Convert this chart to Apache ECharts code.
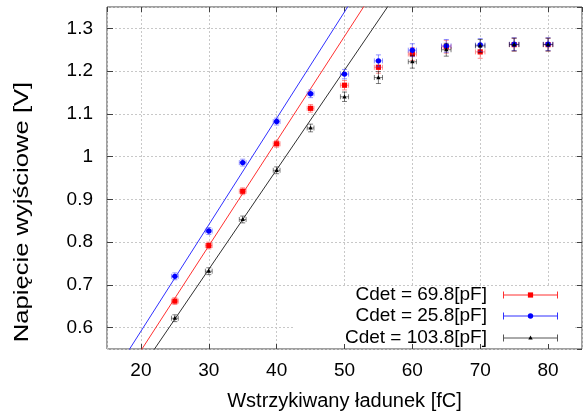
<!DOCTYPE html>
<html>
<head>
<meta charset="utf-8">
<script src="https://cdn.jsdelivr.net/npm/echarts@6/dist/echarts.min.js"></script>
<style>html,body{margin:0;padding:0;background:#fff}#c{width:583px;height:416px}</style>
</head>
<body>
<div id="c"></div>
<script>
// ---- data ----
const xCharge = [25, 30, 35, 40, 45, 50, 55, 60, 65, 70, 75, 80];
const xErr    = [0.5, 0.5, 0.5, 0.5, 0.5, 0.6, 0.6, 0.6, 0.7, 0.7, 0.7, 0.7];
const vRed    = [0.662, 0.792, 0.919, 1.030, 1.113, 1.167, 1.209, 1.240, 1.257, 1.245, 1.262, 1.262];
const vBlue   = [0.720, 0.826, 0.986, 1.082, 1.147, 1.193, 1.224, 1.249, 1.259, 1.261, 1.263, 1.263];
const vBlack  = [0.622, 0.732, 0.853, 0.968, 1.067, 1.140, 1.185, 1.222, 1.250, 1.259, 1.262, 1.262];
const yErr    = [0.008, 0.008, 0.008, 0.008, 0.009, 0.011, 0.014, 0.015, 0.015, 0.015, 0.015, 0.015];
// linear fits (slope, intercept) for each series
const fitSlope     = {red: 0.0245, blue: 0.0249, black: 0.0233};
const fitIntercept = {red: 0.0563, blue: 0.0936, black: 0.0374};
const fitRange = [15, 85];
const legendNames = ['Cdet = 69.8[pF]', 'Cdet = 25.8[pF]', 'Cdet = 103.8[pF]'];
const xTitle = 'Wstrzykiwany ładunek [fC]';
const yTitle = 'Napięcie wyjściowe [V]';

const FONT = '"Liberation Sans", Arial, sans-serif';
const styles = {
  red:   {color: '#ff0000', err: 'rgba(255,60,60,0.55)', line: '#ff3030', shape: 'square'},
  blue:  {color: '#0000ff', err: 'rgba(60,60,255,0.55)', line: '#3030ff', shape: 'circle'},
  black: {color: '#000000', err: 'rgba(0,0,0,0.5)',     line: '#303030', shape: 'triangle'}
};

function markerShape(shape, cx, cy, color) {
  if (shape === 'square') return {type: 'rect', shape: {x: cx - 2.6, y: cy - 2.6, width: 5.2, height: 5.2}, style: {fill: color}};
  if (shape === 'circle') return {type: 'circle', shape: {cx: cx, cy: cy, r: 2.7}, style: {fill: color}};
  return {type: 'polygon', shape: {points: [[cx, cy - 2.4], [cx - 2.2, cy + 1.6], [cx + 2.2, cy + 1.6]]}, style: {fill: color}};
}

function errRender(st) {
  return function (params, api) {
    const x = api.value(0), y = api.value(1), ex = api.value(2), ey = api.value(3);
    const c = api.coord([x, y]);
    const l = api.coord([x - ex, y]), r = api.coord([x + ex, y]);
    const t = api.coord([x, y + ey]), b = api.coord([x, y - ey]);
    const cap = 2.5;
    const ls = {stroke: st.err, lineWidth: 1};
    return {
      type: 'group',
      children: [
        {type: 'line', shape: {x1: l[0], y1: l[1], x2: r[0], y2: r[1]}, style: ls},
        {type: 'line', shape: {x1: l[0], y1: l[1] - cap, x2: l[0], y2: l[1] + cap}, style: ls},
        {type: 'line', shape: {x1: r[0], y1: r[1] - cap, x2: r[0], y2: r[1] + cap}, style: ls},
        {type: 'line', shape: {x1: t[0], y1: t[1], x2: b[0], y2: b[1]}, style: ls},
        {type: 'line', shape: {x1: t[0] - cap, y1: t[1], x2: t[0] + cap, y2: t[1]}, style: ls},
        {type: 'line', shape: {x1: b[0] - cap, y1: b[1], x2: b[0] + cap, y2: b[1]}, style: ls},
        markerShape(st.shape, c[0], c[1], st.color)
      ]
    };
  };
}

function pts(vals) { return xCharge.map((x, i) => [x, vals[i], xErr[i], yErr[i]]); }
function fitLine(key) { return fitRange.map(x => [x, fitSlope[key] * x + fitIntercept[key]]); }

const series = [];
[['red', vRed], ['blue', vBlue], ['black', vBlack]].forEach(([key, vals], i) => {
  series.push({type: 'line', data: fitLine(key), showSymbol: false, silent: true, clip: true,
    lineStyle: {color: styles[key].line, width: 1}, z: 6, xAxisIndex: 0, yAxisIndex: 0});
});
[['red', vRed], ['blue', vBlue], ['black', vBlack]].forEach(([key, vals], i) => {
  series.push({type: 'custom', data: pts(vals), renderItem: errRender(styles[key]),
    encode: {x: 0, y: 1}, z: 7 + i, xAxisIndex: 0, yAxisIndex: 0});
});

// legend drawn as graphic (right-aligned text, sample on the right)
const legendRows = [295, 316, 338];
const legendKeys = ['red', 'blue', 'black'];
const legendGraphic = [];
legendKeys.forEach((key, i) => {
  const y = legendRows[i], st = styles[key];
  const lc = key === 'black' ? '#555' : st.line;
  legendGraphic.push({type: 'text', x: 487, y: y, z: 20,
    style: {text: legendNames[i], font: '19px ' + FONT, fill: '#000', textAlign: 'right', textVerticalAlign: 'middle'}});
  legendGraphic.push({type: 'line', z: 20, shape: {x1: 503, y1: y, x2: 558, y2: y}, style: {stroke: lc, lineWidth: 1}});
  legendGraphic.push({type: 'line', z: 20, shape: {x1: 503.5, y1: y - 3.5, x2: 503.5, y2: y + 3.5}, style: {stroke: lc, lineWidth: 1}});
  legendGraphic.push({type: 'line', z: 20, shape: {x1: 557.5, y1: y - 3.5, x2: 557.5, y2: y + 3.5}, style: {stroke: lc, lineWidth: 1}});
  legendGraphic.push(Object.assign(markerShape(st.shape, 530.5, y, st.color), {z: 21}));
});

const gridLineStyle = {color: '#c8c8c8', type: [2, 2], width: 1};
const tickLabelFmt = v => String(+v.toFixed(2));

const option = {
  animation: false,
  backgroundColor: '#fff',
  grid: {left: 107, right: 1, top: 7, bottom: 64, show: true, borderColor: '#404040', borderWidth: 1, backgroundColor: 'transparent'},
  xAxis: [
    {type: 'value', position: 'bottom', min: 15, max: 85, splitNumber: 7, z: 5,
      name: xTitle, nameLocation: 'middle', nameGap: 42,
      nameTextStyle: {fontFamily: FONT, fontSize: 20, color: '#000'},
      axisLine: {show: false},
      axisTick: {show: true, inside: true, length: 5, lineStyle: {color: '#404040'}},
      axisLabel: {fontFamily: FONT, fontSize: 19, color: '#000', margin: 12, showMinLabel: false, showMaxLabel: false, formatter: tickLabelFmt},
      splitLine: {show: false}},
    {type: 'value', position: 'top', min: 15, max: 85, splitNumber: 7, z: 0,
      axisLine: {show: false},
      axisTick: {show: true, inside: true, length: 5, lineStyle: {color: '#404040'}},
      axisLabel: {show: false},
      splitLine: {show: true, lineStyle: gridLineStyle}}
  ],
  yAxis: [
    {type: 'value', position: 'left', min: 0.55, max: 1.35, splitNumber: 8, z: 5,
      axisLine: {show: false},
      axisTick: {show: true, inside: true, length: 6, lineStyle: {color: '#404040'}},
      axisLabel: {fontFamily: FONT, fontSize: 19, color: '#000', margin: 14, showMinLabel: false, showMaxLabel: false, formatter: tickLabelFmt},
      splitLine: {show: false}},
    {type: 'value', position: 'right', min: 0.55, max: 1.35, splitNumber: 8, z: 0,
      axisLine: {show: false},
      axisTick: {show: true, inside: true, length: 5, lineStyle: {color: '#404040'}},
      axisLabel: {show: false},
      splitLine: {show: true, lineStyle: gridLineStyle}}
  ],
  graphic: [
    {type: 'rect', z: 1, shape: {x: 294, y: 286, width: 281, height: 60}, style: {fill: '#fff'}},
    {type: 'text', x: 22, y: 212, rotation: Math.PI / 2, scaleX: 1.28, z: 20,
      style: {text: yTitle, font: '20px ' + FONT, fill: '#000', textAlign: 'center', textVerticalAlign: 'middle'}},
    ...legendGraphic
  ],
  series: series
};

const chart = echarts.init(document.getElementById('c'), null, {renderer: 'canvas'});
chart.setOption(option);
</script>
</body>
</html>
